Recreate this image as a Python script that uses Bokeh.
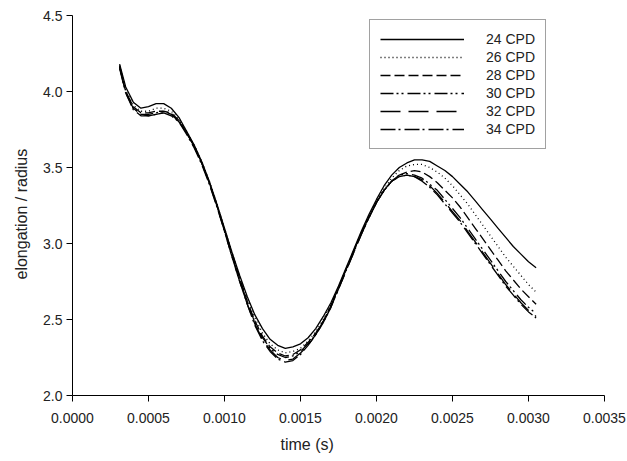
from bokeh.plotting import figure
from bokeh.models import Range1d, FixedTicker, NumeralTickFormatter, Legend, LegendItem, Title
from bokeh.embed import file_html
from bokeh.resources import INLINE

time_s = [0.00031, 0.00035, 0.0004, 0.00045, 0.0005, 0.00055, 0.0006, 0.00065, 0.0007, 0.00075,
          0.0008, 0.00085, 0.0009, 0.00095, 0.001, 0.00105, 0.0011, 0.00115, 0.0012, 0.00125,
          0.0013, 0.00135, 0.0014, 0.00145, 0.0015, 0.00155, 0.0016, 0.00165, 0.0017, 0.00175,
          0.0018, 0.00185, 0.0019, 0.00195, 0.002, 0.00205, 0.0021, 0.00215, 0.0022, 0.00225,
          0.0023, 0.00235, 0.0024, 0.00245, 0.0025, 0.00255, 0.0026, 0.00265, 0.0027, 0.00275,
          0.0028, 0.00285, 0.0029, 0.00295, 0.003, 0.00305]

cpd24 = [4.18, 4.03, 3.93, 3.89, 3.90, 3.92, 3.92, 3.89, 3.83, 3.74,
         3.65, 3.54, 3.41, 3.26, 3.10, 2.94, 2.79, 2.65, 2.53, 2.44,
         2.37, 2.33, 2.31, 2.32, 2.34, 2.38, 2.44, 2.52, 2.61, 2.72,
         2.84, 2.96, 3.08, 3.19, 3.29, 3.38, 3.45, 3.50, 3.53, 3.55,
         3.55, 3.54, 3.51, 3.48, 3.44, 3.39, 3.34, 3.28, 3.22, 3.16,
         3.10, 3.04, 2.98, 2.93, 2.88, 2.84]
cpd26 = [4.17, 4.01, 3.91, 3.87, 3.87, 3.89, 3.89, 3.87, 3.82, 3.74,
         3.65, 3.54, 3.41, 3.26, 3.10, 2.94, 2.78, 2.64, 2.51, 2.41,
         2.34, 2.30, 2.28, 2.29, 2.31, 2.36, 2.42, 2.50, 2.60, 2.71,
         2.83, 2.95, 3.07, 3.18, 3.28, 3.36, 3.43, 3.48, 3.51, 3.52,
         3.52, 3.50, 3.47, 3.43, 3.38, 3.32, 3.26, 3.19, 3.12, 3.05,
         2.98, 2.91, 2.85, 2.79, 2.73, 2.68]
cpd28 = [4.16, 4.00, 3.90, 3.86, 3.86, 3.87, 3.87, 3.86, 3.81, 3.73,
         3.64, 3.53, 3.40, 3.25, 3.09, 2.93, 2.77, 2.62, 2.49, 2.39,
         2.32, 2.28, 2.26, 2.27, 2.30, 2.35, 2.41, 2.49, 2.59, 2.71,
         2.83, 2.95, 3.07, 3.17, 3.27, 3.35, 3.41, 3.45, 3.47, 3.48,
         3.47, 3.44, 3.40, 3.35, 3.30, 3.24, 3.17, 3.10, 3.03, 2.96,
         2.89, 2.82, 2.76, 2.70, 2.65, 2.60]
cpd30 = [4.17, 4.00, 3.89, 3.85, 3.85, 3.86, 3.87, 3.85, 3.81, 3.73,
         3.64, 3.53, 3.40, 3.25, 3.09, 2.92, 2.76, 2.61, 2.48, 2.38,
         2.31, 2.27, 2.25, 2.26, 2.29, 2.34, 2.40, 2.49, 2.59, 2.71,
         2.83, 2.95, 3.07, 3.17, 3.27, 3.35, 3.41, 3.45, 3.46, 3.45,
         3.43, 3.39, 3.35, 3.29, 3.23, 3.17, 3.10, 3.03, 2.96, 2.89,
         2.82, 2.75, 2.69, 2.63, 2.58, 2.54]
cpd32 = [4.16, 3.99, 3.89, 3.85, 3.84, 3.85, 3.86, 3.85, 3.80, 3.73,
         3.64, 3.53, 3.40, 3.25, 3.08, 2.91, 2.75, 2.60, 2.47, 2.37,
         2.30, 2.25, 2.23, 2.24, 2.28, 2.33, 2.40, 2.48, 2.58, 2.70,
         2.82, 2.94, 3.06, 3.17, 3.27, 3.35, 3.41, 3.44, 3.45, 3.44,
         3.42, 3.38, 3.33, 3.27, 3.21, 3.15, 3.08, 3.01, 2.94, 2.87,
         2.80, 2.73, 2.67, 2.61, 2.56, 2.52]
cpd34 = [4.15, 3.99, 3.88, 3.84, 3.84, 3.85, 3.86, 3.84, 3.80, 3.72,
         3.63, 3.52, 3.39, 3.24, 3.08, 2.91, 2.75, 2.60, 2.46, 2.36,
         2.29, 2.24, 2.22, 2.23, 2.27, 2.33, 2.40, 2.48, 2.58, 2.70,
         2.82, 2.94, 3.06, 3.17, 3.27, 3.35, 3.41, 3.44, 3.45, 3.44,
         3.41, 3.37, 3.32, 3.26, 3.20, 3.14, 3.07, 3.00, 2.93, 2.86,
         2.79, 2.72, 2.66, 2.60, 2.55, 2.51]

series_labels = ["24 CPD", "26 CPD", "28 CPD", "30 CPD", "32 CPD", "34 CPD"]
series_values = [cpd24, cpd26, cpd28, cpd30, cpd32, cpd34]
dashes = ["solid", "1 3", "10 4", "13 3 2 3 2 4", "20 8", "15 3 2 4"]

x_ticks = [0.0, 0.0005, 0.001, 0.0015, 0.002, 0.0025, 0.003, 0.0035]
y_ticks = [2.0, 2.5, 3.0, 3.5, 4.0, 4.5]
x_title = "time (s)"
y_title = "elongation / radius"

FONT = "Liberation Sans"

p = figure(width=627, height=461, output_backend="svg", toolbar_location=None,
           x_range=Range1d(0, 0.0035), y_range=Range1d(2.0, 4.5),
           min_border_left=72, min_border_right=23, min_border_top=15, min_border_bottom=66)
p.outline_line_color = None
p.grid.visible = False
p.background_fill_color = "white"
p.border_fill_color = "white"

p.xaxis.ticker = FixedTicker(ticks=x_ticks)
p.yaxis.ticker = FixedTicker(ticks=y_ticks)
p.xaxis.formatter = NumeralTickFormatter(format="0.0000")
p.yaxis.formatter = NumeralTickFormatter(format="0.0")
for ax in (p.xaxis, p.yaxis):
    ax.minor_tick_line_color = None
    ax.major_tick_in = 0
    ax.major_tick_out = 6
    ax.axis_line_color = "black"
    ax.major_tick_line_color = "black"
    ax.major_label_text_font = FONT
    ax.major_label_text_font_size = "14px"
    ax.major_label_text_color = "#222222"
p.xaxis.major_label_standoff = 11
p.yaxis.major_label_standoff = 4

# axis titles placed like the original (offset from the frame's left / bottom edge)
p.add_layout(Title(text=x_title, align="left", offset=208, standoff=16,
                   text_font=FONT, text_font_size="16px", text_font_style="normal",
                   text_color="#222222"), "below")
p.add_layout(Title(text=y_title, align="left", offset=116, standoff=21,
                   text_font=FONT, text_font_size="16px", text_font_style="normal",
                   text_color="#222222"), "left")

items = []
for lab, vals, d in zip(series_labels, series_values, dashes):
    r = p.line(time_s, vals, line_color="black", line_width=1.3, line_dash=d)
    items.append(LegendItem(label=lab, renderers=[r]))

legend = Legend(items=items, location=(297, 246), orientation="vertical")
legend.glyph_width = 84
legend.glyph_height = 18
legend.label_height = 18
legend.spacing = 0
legend.padding = 10
legend.margin = 0
legend.label_standoff = 22
legend.label_text_font = FONT
legend.label_text_font_size = "14px"
legend.label_text_color = "#222222"
legend.border_line_color = "#444444"
legend.border_line_width = 1
legend.background_fill_color = "white"
legend.background_fill_alpha = 1.0
p.add_layout(legend)

open("out.html", "w").write(file_html(p, INLINE))
